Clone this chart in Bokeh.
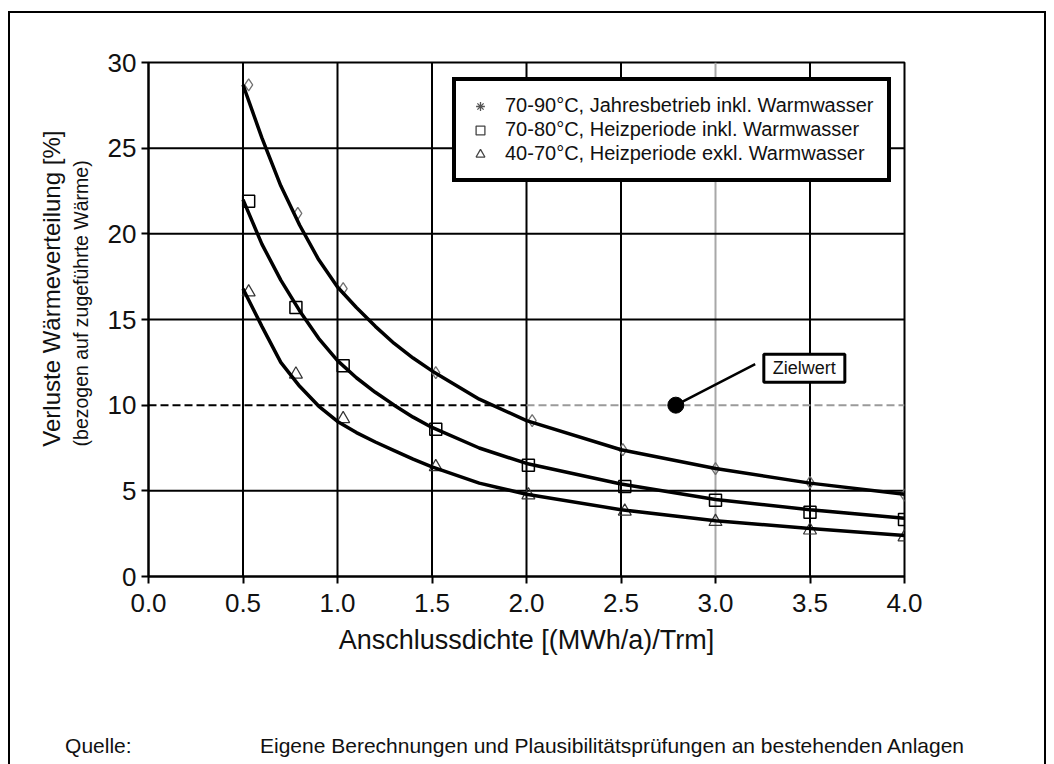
from bokeh.plotting import figure
from bokeh.models import (Range1d, FixedTicker, PrintfTickFormatter, Label,
                          Legend, LegendItem, ColumnDataSource, LinearAxis)
from bokeh.embed import file_html
from bokeh.resources import INLINE

NAN = float("nan")
NBSP = "\u00a0"

# ---------------- data ----------------
x_ticks = [0.0, 0.5, 1.0, 1.5, 2.0, 2.5, 3.0, 3.5, 4.0]
y_ticks = [0, 5, 10, 15, 20, 25, 30]

series_labels = [
    "70-90°C, Jahresbetrieb inkl. Warmwasser",
    "70-80°C, Heizperiode inkl. Warmwasser",
    "40-70°C, Heizperiode exkl. Warmwasser",
]

# measured points (markers)
pts1_x = [0.53, 0.79, 1.03, 1.52, 2.03, 2.51, 3.0, 3.5, 4.0]
pts1_y = [28.7, 21.2, 16.8, 11.9, 9.1, 7.4, 6.3, 5.5, 4.75]
pts2_x = [0.53, 0.78, 1.03, 1.52, 2.01, 2.52, 3.0, 3.5, 4.0]
pts2_y = [21.9, 15.7, 12.3, 8.6, 6.5, 5.25, 4.45, 3.75, 3.33]
pts3_x = [0.53, 0.78, 1.03, 1.52, 2.01, 2.52, 3.0, 3.5, 4.0]
pts3_y = [16.6, 11.8, 9.2, 6.4, 4.75, 3.8, 3.2, 2.7, 2.3]

# fitted curves
curve_x  = [0.5, 0.6, 0.7, 0.8, 0.9, 1.0, 1.1, 1.2, 1.3, 1.4, 1.5, 1.75, 2.0, 2.5, 3.0, 3.5, 4.0]
curve1_y = [28.7, 25.6, 22.8, 20.5, 18.5, 16.9, 15.7, 14.6, 13.6, 12.75, 12.0, 10.35, 9.1, 7.4, 6.3, 5.45, 4.8]
curve2_y = [22.0, 19.4, 17.3, 15.5, 13.9, 12.6, 11.6, 10.75, 10.0, 9.3, 8.7, 7.5, 6.6, 5.4, 4.5, 3.9, 3.4]
curve3_y = [16.8, 14.6, 12.5, 11.1, 9.95, 9.05, 8.4, 7.85, 7.35, 6.85, 6.4, 5.45, 4.8, 3.9, 3.25, 2.8, 2.4]

# target value (Zielwert)
target_value = 10
target_marker_x = 2.79
target_label = "Zielwert"
target_label_pos = (3.47, 12.15)
target_leader_end = (3.21, 12.4)

x_title = "Anschlussdichte [(MWh/a)/Trm]"
y_title = "Verluste Wärmeverteilung [%]"
y_subtitle = "(bezogen auf zugeführte Wärme)"
y_title_center = 16.8
y_subtitle_center = 15.94
source_label = "Quelle:"
source_text = "Eigene Berechnungen und Plausibilitätsprüfungen an bestehenden Anlagen"
source_center = 1.94

FONT = "Liberation Sans"
TXT = "#111111"

# ---------------- figure ----------------
p = figure(width=1038, height=753,
           x_range=Range1d(0, 4), y_range=Range1d(0, 30),
           output_backend="svg", toolbar_location=None,
           min_border_left=138, min_border_right=144,
           min_border_top=49, min_border_bottom=190)
p.styles = {"margin-left": "8px", "margin-top": "11px",
            "border-top": "2px solid black", "border-left": "2px solid black",
            "border-right": "2px solid black"}
p.background_fill_color = "white"
p.border_fill_color = "white"
p.outline_line_color = "black"
p.outline_line_width = 2
p.outline_line_alpha = 1
p.xgrid.visible = False
p.ygrid.visible = False

# grid lines
vx = x_ticks[1:-1]
vcol = ["#a8a8a8" if v == 3.0 else "black" for v in vx]
p.segment(x0=vx, y0=[y_ticks[0]] * len(vx), x1=vx, y1=[y_ticks[-1]] * len(vx),
          line_color=vcol, line_width=2)
hy = [v for v in y_ticks[1:-1] if v != target_value]
p.segment(x0=[x_ticks[0]] * len(hy), y0=hy, x1=[x_ticks[-1]] * len(hy), y1=hy,
          line_color="black", line_width=2)
# dashed target line
p.segment(x0=[x_ticks[0]], y0=[target_value], x1=[2.0], y1=[target_value],
          line_color="black", line_width=2, line_dash="8 4")
p.segment(x0=[2.0], y0=[target_value], x1=[x_ticks[-1]], y1=[target_value],
          line_color="#9a9a9a", line_width=2, line_dash="8 4")

# markers
p.scatter(pts1_x, pts1_y, marker="diamond", size=12, fill_color=None,
          line_color="#707070", line_width=1.3)
p.scatter(pts2_x, pts2_y, marker="square", size=12, fill_color=None,
          line_color="black", line_width=1.5)
p.scatter(pts3_x, pts3_y, marker="triangle", size=13, fill_color=None,
          line_color="#333333", line_width=1.2)

# curves
for cy in (curve1_y, curve2_y, curve3_y):
    p.line(curve_x, cy, line_color="black", line_width=3.5)

# target marker and leader
p.segment(x0=[target_marker_x], y0=[target_value],
          x1=[target_leader_end[0]], y1=[target_leader_end[1]],
          line_color="black", line_width=2.5)
p.scatter([target_marker_x], [target_value], marker="circle", size=16,
          fill_color="black", line_color="black")
p.add_layout(Label(x=target_label_pos[0], y=target_label_pos[1], text=target_label,
                   text_align="center", text_baseline="middle",
                   text_font=FONT, text_font_size="18px", text_color=TXT,
                   border_line_color="black", border_line_width=3,
                   background_fill_color="white", padding=(9, 4)))

# legend (keys only; no points drawn)
dummy = ColumnDataSource(data=dict(x=[NAN], y=[NAN]))
lg1 = p.scatter("x", "y", source=dummy, marker="asterisk", size=10,
                line_color="#555555", line_width=1.3)
lg2 = p.scatter("x", "y", source=dummy, marker="square", size=12,
                fill_color=None, line_color="#444444", line_width=1.3)
lg3 = p.scatter("x", "y", source=dummy, marker="triangle", size=13,
                fill_color=None, line_color="#444444", line_width=1.3)
legend = Legend(items=[LegendItem(label=series_labels[0], renderers=[lg1]),
                       LegendItem(label=series_labels[1], renderers=[lg2]),
                       LegendItem(label=series_labels[2], renderers=[lg3])],
                location=(304, 394), margin=0, padding=13, spacing=1,
                glyph_width=22, glyph_height=22, label_height=22,
                label_standoff=14,
                label_text_font=FONT, label_text_font_size="20px",
                label_text_color=TXT,
                border_line_color="black", border_line_width=4,
                border_line_alpha=1,
                background_fill_color="white", background_fill_alpha=1)
p.add_layout(legend)

# axes
for ax in (p.xaxis[0], p.yaxis[0]):
    ax.axis_line_width = 2
    ax.axis_line_color = "black"
    ax.major_tick_line_width = 2
    ax.major_tick_in = 0
    ax.major_tick_out = 7
    ax.minor_tick_out = 0
    ax.minor_tick_in = 0
    ax.major_label_text_font = FONT
    ax.major_label_text_font_size = "26px"
    ax.major_label_text_color = TXT

p.xaxis.ticker = FixedTicker(ticks=x_ticks)
p.xaxis.formatter = PrintfTickFormatter(format="%.1f")
p.xaxis.major_label_standoff = 10
p.xaxis.axis_label = x_title
p.xaxis.axis_label_text_font = FONT
p.xaxis.axis_label_text_font_size = "27px"
p.xaxis.axis_label_text_font_style = "normal"
p.xaxis.axis_label_text_color = TXT
p.xaxis.axis_label_standoff = 10

p.yaxis.ticker = FixedTicker(ticks=y_ticks)
p.yaxis.major_label_standoff = 5


def text_axis(ticks, overrides, size, standoff, orientation):
    return LinearAxis(ticker=FixedTicker(ticks=ticks, minor_ticks=[]),
                      major_label_overrides=overrides,
                      major_label_orientation=orientation,
                      axis_line_color=None, major_tick_line_color=None,
                      minor_tick_line_color=None,
                      major_tick_out=0, major_tick_in=0,
                      minor_tick_out=0, minor_tick_in=0,
                      major_label_standoff=standoff,
                      major_label_text_font=FONT,
                      major_label_text_font_size=size,
                      major_label_text_color=TXT)


# y-axis titles (subtitle closest to the frame)
p.add_layout(text_axis([y_subtitle_center], {y_subtitle_center: y_subtitle},
                       "19.5px", 12, "vertical"), "left")
p.add_layout(text_axis([y_title_center], {y_title_center: y_title},
                       "24px", 2, "vertical"), "left")

# source line
source_line = source_label + NBSP * 22 + source_text
p.add_layout(text_axis([source_center], {source_center: source_line},
                       "21px", 76, "horizontal"), "below")

open("out.html", "w").write(file_html(p, INLINE))
